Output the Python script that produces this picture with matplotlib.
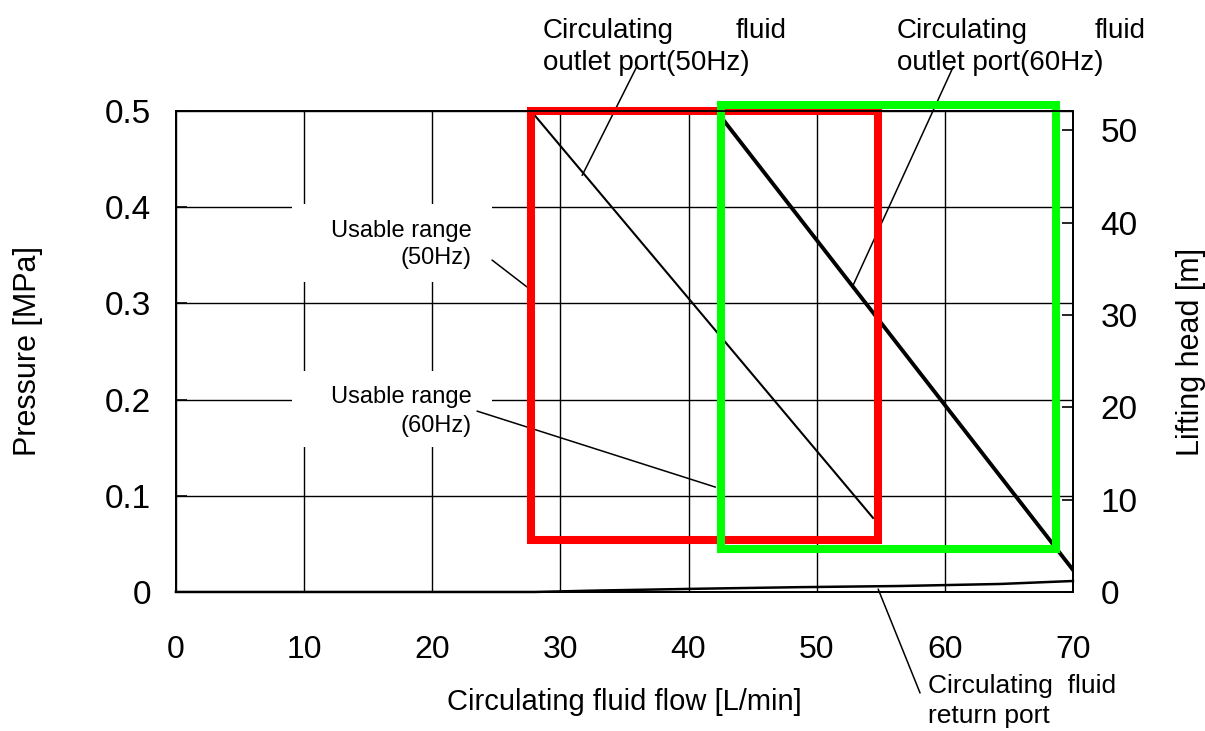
import numpy as np
import matplotlib
matplotlib.use( 'Agg' )
import matplotlib.pyplot as plt
from matplotlib.patches import Rectangle

plt.rcParams['font.family'] = ['Liberation Sans', 'DejaVu Sans']

# pump curves (flow L/min, pressure MPa)
flow_50hz  = [ 27.9 , 54.4 ]
press_50hz = [ 0.497 , 0.077 ]

flow_60hz  = [ 42.7 , 70.0 ]
press_60hz = [ 0.491 , 0.023 ]

flow_return  = [ 0 , 28 , 33 , 41 , 48.7 , 56.5 , 64.3 , 70 ]
press_return = [ 0 , 0 , 0.0015 , 0.0034 , 0.005 , 0.0062 , 0.0083 , 0.0114 ]

# usable ranges : ( flow min , flow max , pressure min , pressure max )
range_50hz = ( 27.7 , 54.8 , 0.0535 , 0.500 )
range_60hz = ( 42.5 , 68.7 , 0.045 , 0.506 )

x_ticks      = [ 0 , 10 , 20 , 30 , 40 , 50 , 60 , 70 ]
y_ticks      = [ 0 , 0.1 , 0.2 , 0.3 , 0.4 , 0.5 ]
y_ticklabels = [ '0' , '0.1' , '0.2' , '0.3' , '0.4' , '0.5' ]
head_ticks   = [ 0 , 10 , 20 , 30 , 40 , 50 ]
head_max     = 52.1


def add_range_box( ax , rng , color , z ):
    x0 , x1 , y0 , y1 = rng
    ax.add_patch( Rectangle( ( x0 , y0 ) , x1 - x0 , y1 - y0 ,
                             fill=False , edgecolor=color , lw=5.8 ,
                             joinstyle='miter' , clip_on=False , zorder=z ) )


def leader( ax , start , end ):
    ax.annotate( '' , xy=end , xytext=start ,
                 arrowprops=dict( arrowstyle='-' , color='black' , lw=1.1 ,
                                  shrinkA=0 , shrinkB=0 ) ,
                 annotation_clip=False , zorder=2.5 )


def label_box( ax , y0 , y1 ):
    # white patch behind the "Usable range" notes, covers the grid
    ax.add_patch( Rectangle( ( 0.1293 , y0 ) , 0.223 , y1 - y0 ,
                             transform=ax.transAxes , facecolor='white' ,
                             edgecolor='none' , zorder=1 ) )


if __name__ == "__main__":

    fig = plt.figure( figsize=( 12.05 , 7.31 ) , dpi=100 )
    ax  = fig.add_axes( [ 0.146 , 0.1902 , 0.7444 , 0.658 ] )

    ax.set_xlim( 0 , 70 )
    ax.set_ylim( 0 , 0.5 )
    ax.set_xticks( x_ticks )
    ax.set_yticks( y_ticks )
    ax.set_yticklabels( y_ticklabels )
    ax.set_axisbelow( True )
    ax.grid( True , color='black' , lw=1.0 )

    ax.tick_params( axis='y' , direction='in' , length=8 , width=1.2 , pad=18 , labelsize=24 )
    ax.tick_params( axis='x' , direction='in' , length=0 , pad=31 , labelsize=23 )
    for sp in ax.spines.values():
        sp.set_linewidth( 1.3 )

    label_box( ax , 0.6445 , 0.8067 )
    label_box( ax , 0.302 , 0.459 )

    ax.plot( flow_50hz , press_50hz , color='black' , lw=1.5 , zorder=2 )
    ax.plot( flow_60hz , press_60hz , color='black' , lw=2.8 , zorder=2 )
    ax.plot( flow_return , press_return , color='black' , lw=1.8 , zorder=2 , clip_on=False )

    add_range_box( ax , range_50hz , '#ff0000' , 3 )
    add_range_box( ax , range_60hz , '#00ff00' , 4 )

    # notes and leader lines
    fs_top = 20
    ax.text( 28.64 , 0.576 , 'Circulating' , fontsize=fs_top , ha='left' , va='baseline' )
    ax.text( 47.68 , 0.576 , 'fluid' , fontsize=fs_top , ha='right' , va='baseline' )
    ax.text( 28.64 , 0.543 , 'outlet port(50Hz)' , fontsize=fs_top , ha='left' , va='baseline' )
    leader( ax , ( 35.96 , 0.546 ) , ( 31.7 , 0.433 ) )

    ax.text( 56.27 , 0.576 , 'Circulating' , fontsize=fs_top , ha='left' , va='baseline' )
    ax.text( 75.70 , 0.576 , 'fluid' , fontsize=fs_top , ha='right' , va='baseline' )
    ax.text( 56.27 , 0.543 , 'outlet port(60Hz)' , fontsize=fs_top , ha='left' , va='baseline' )
    leader( ax , ( 60.66 , 0.546 ) , ( 52.85 , 0.319 ) )

    ax.text( 23.1 , 0.3693 , 'Usable range' , fontsize=17 , ha='right' , va='baseline' , zorder=2 )
    ax.text( 23.1 , 0.341 , '(50Hz)' , fontsize=17 , ha='right' , va='baseline' , zorder=2 )
    leader( ax , ( 24.67 , 0.345 ) , ( 27.4 , 0.317 ) )

    ax.text( 23.1 , 0.1965 , 'Usable range' , fontsize=17 , ha='right' , va='baseline' , zorder=2 )
    ax.text( 23.1 , 0.1667 , '(60Hz)' , fontsize=17 , ha='right' , va='baseline' , zorder=2 )
    leader( ax , ( 23.5 , 0.188 ) , ( 42.1 , 0.109 ) )

    ax.text( 58.69 , -0.105 , 'Circulating  fluid' , fontsize=19 , ha='left' , va='baseline' )
    ax.text( 58.69 , -0.136 , 'return port' , fontsize=19 , ha='left' , va='baseline' )
    leader( ax , ( 58.07 , -0.105 ) , ( 54.8 , 0.003 ) )

    ax.set_xlabel( 'Circulating fluid flow [L/min]' , fontsize=21 )
    ax.xaxis.set_label_coords( 0.5 , -0.2 )
    ax.set_ylabel( 'Pressure [MPa]' , fontsize=22 )
    ax.yaxis.set_label_coords( -0.148 , 0.5 )

    ax2 = ax.twinx()
    ax2.set_ylim( 0 , head_max )
    ax2.set_yticks( head_ticks )
    ax2.tick_params( axis='y' , direction='in' , length=8 , width=1.2 , pad=20 , labelsize=24 )
    ax2.set_ylabel( 'Lifting head [m]' , fontsize=22 )
    ax2.yaxis.set_label_coords( 1.115 , 0.5 )
    for sp in ax2.spines.values():
        sp.set_linewidth( 1.3 )

    fig.savefig( 'out.png' , dpi=100 )
